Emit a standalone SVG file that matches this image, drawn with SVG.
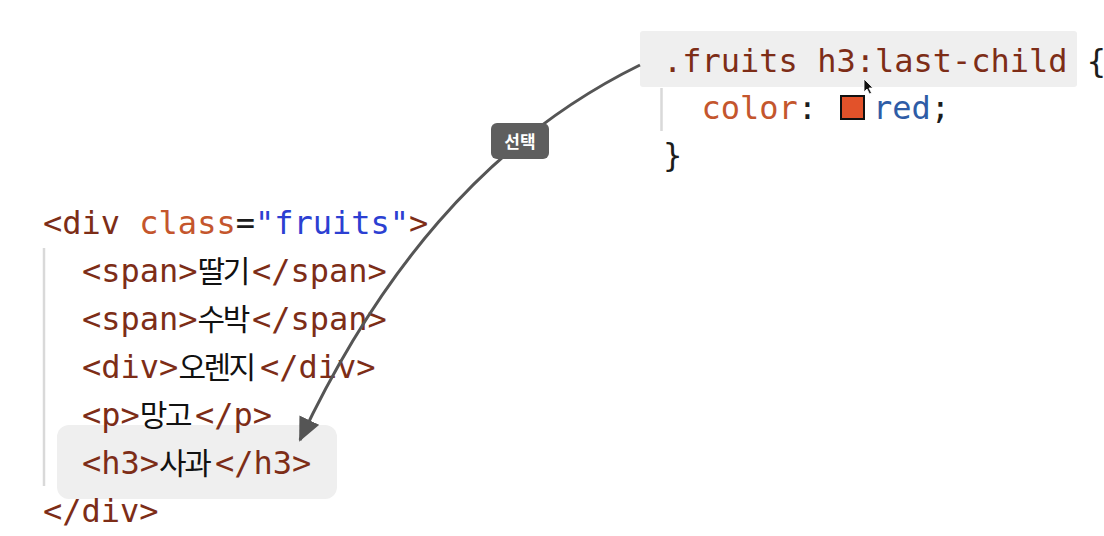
<svg xmlns="http://www.w3.org/2000/svg" width="1104" height="536" viewBox="0 0 1104 536">
  <style>
    .code { font-family: "DejaVu Sans Mono", "Noto Sans CJK KR", monospace; font-size: 32px; fill: #1c1c1c; }
    .ko { font-family: "Noto Sans CJK KR", sans-serif; font-size: 30px; letter-spacing: -2.5px; fill: #111; }
    .tag { fill: #7d2d17; }
    .attr { fill: #c4562d; }
    .str { fill: #2c3fd2; }
    .val { fill: #2e5ca6; }
    .sel { fill: #7d2d17; }
    .prop { fill: #c4562d; }
    .hl { fill: #efefef; }
    .guide { stroke: #d9d9d9; stroke-width: 2.5; }
    .conn { fill: none; stroke: #555; stroke-width: 3; }
    .lbl-bg { fill: #5e5e5e; }
    .lbl { font-family: "Noto Sans CJK KR", "Noto Sans", sans-serif; font-size: 17px; font-weight: bold; fill: #fff; }
  </style>
  <defs>
    <marker id="arrow" markerUnits="userSpaceOnUse" markerWidth="24" markerHeight="22" viewBox="0 0 24 22" refX="22" refY="11" orient="auto">
      <path d="M0,0 L24,11 L0,22 z" fill="#555"/>
    </marker>
  </defs>
  <rect width="1104" height="536" fill="#ffffff"/>

  <g id="css-rule">
    <rect class="hl" x="640" y="31" width="437" height="56" rx="3"/>
    <line class="guide" x1="661.5" y1="88" x2="661.5" y2="131"/>
    <text class="code" x="663" y="72"><tspan class="sel">.fruits h3:last-child</tspan> {</text>
    <text class="code" x="701.5" y="119"><tspan class="prop">color</tspan>:</text>
    <rect x="841" y="96" width="23" height="23" fill="#e2522a" stroke="#111" stroke-width="2"/>
    <text class="code" x="873" y="119"><tspan class="val">red</tspan>;</text>
    <text class="code" x="663" y="166">}</text>
    <path d="M864,79 L864,92 L867,89 L869.5,94 L871.5,93 L869,88 L873,88 z" fill="#111" stroke="#fff" stroke-width="0.8"/>
  </g>

  <g id="h3-target">
    <rect class="hl" x="57" y="425" width="280" height="74" rx="12"/>
    <text class="code" x="82" y="474"><tspan class="tag">&lt;h3&gt;</tspan><tspan class="ko" x="159.1">사과</tspan><tspan class="tag" x="215">&lt;/h3&gt;</tspan></text>
  </g>

  <g id="html-code">
    <line class="guide" x1="44" y1="248" x2="44" y2="486"/>
    <text class="code" x="43" y="234"><tspan class="tag">&lt;div</tspan> <tspan class="attr">class</tspan>=<tspan class="str">"fruits"</tspan><tspan class="tag">&gt;</tspan></text>
    <text class="code" x="82" y="282"><tspan class="tag">&lt;span&gt;</tspan><tspan class="ko" x="197.6">딸기</tspan><tspan class="tag" x="252">&lt;/span&gt;</tspan></text>
    <text class="code" x="82" y="330"><tspan class="tag">&lt;span&gt;</tspan><tspan class="ko" x="197.6">수박</tspan><tspan class="tag" x="252">&lt;/span&gt;</tspan></text>
    <text class="code" x="82" y="378"><tspan class="tag">&lt;div&gt;</tspan><tspan class="ko" x="178.4">오렌지</tspan><tspan class="tag" x="260">&lt;/div&gt;</tspan></text>
    <text class="code" x="82" y="426"><tspan class="tag">&lt;p&gt;</tspan><tspan class="ko" x="139.8">망고</tspan><tspan class="tag" x="195">&lt;/p&gt;</tspan></text>
    <text class="code" x="43" y="522"><tspan class="tag">&lt;/div&gt;</tspan></text>
  </g>

  <g id="connectors">
    <path class="conn" marker-end="url(#arrow)" d="M640,65 C481,143 375.5,280 300,440"/>
    <rect class="lbl-bg" x="491" y="123" width="58" height="36" rx="6"/>
    <text class="lbl" x="520" y="147.5" text-anchor="middle">선택</text>
  </g>
</svg>
